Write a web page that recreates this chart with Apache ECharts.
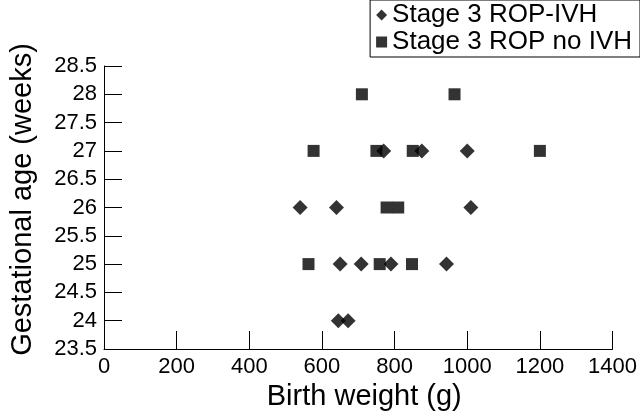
<!DOCTYPE html>
<html>
<head>
<meta charset="utf-8">
<script src="https://cdn.jsdelivr.net/npm/echarts@6/dist/echarts.min.js"></script>
<style>html,body{margin:0;padding:0;background:#fff}#c{width:640px;height:418px}</style>
</head>
<body>
<div id="c"></div>
<script>
// Stage 3 ROP-IVH: [birth weight (g), gestational age (weeks)]
var ivhWeight = [770, 875, 1000, 540, 640, 1010, 650, 708, 790, 943, 645, 672];
var ivhAge    = [27,  27,  27,   26,  26,  26,   25,  25,  25,  25,  24,  24];
// Stage 3 ROP no IVH
var noIvhWeight = [710, 965, 577, 750, 850, 1200, 778, 810, 563, 759, 848];
var noIvhAge    = [28,  28,  27,  27,  27,  27,   26,  26,  25,  25,  25];
var seriesNames = ['Stage 3 ROP-IVH', 'Stage 3 ROP no IVH'];

function pairs(xs, ys){ return xs.map(function(x,i){ return [x, ys[i]]; }); }

var chart = echarts.init(document.getElementById('c'), null, {renderer:'canvas'});
var font = 'Liberation Sans, Arial, Helvetica, sans-serif';
chart.setOption({
  animation:false,
  backgroundColor:'#fff',
  textStyle:{fontFamily:font, color:'#000'},
  grid:{left:101, right:27, top:66, bottom:69, containLabel:false},
  legend:{
    orient:'vertical', right:0, top:0,
    data:[{name:seriesNames[0], icon:'diamond'},{name:seriesNames[1], icon:'rect'}],
    itemWidth:11, itemHeight:11, itemGap:1,
    borderColor:'#000', borderWidth:1, padding:[2,8,2,6],
    textStyle:{fontSize:26, lineHeight:22, fontFamily:font, color:'#000'}
  },
  xAxis:{
    type:'value', min:0, max:1400, interval:200,
    name:'Birth weight (g)', nameLocation:'middle', nameGap:31,
    nameTextStyle:{fontSize:29, fontFamily:font, color:'#000', padding:[0,0,0,12]},
    axisLine:{lineStyle:{color:'#000', width:1}},
    axisTick:{inside:true, length:18, lineStyle:{color:'#000'}},
    axisLabel:{fontSize:22, color:'#000', margin:7, fontFamily:font,
      formatter:function(v){return String(v);}},
    splitLine:{show:false}
  },
  yAxis:{
    type:'value', min:23.5, max:28.5, interval:0.5,
    name:'Gestational age (weeks)', nameLocation:'middle', nameGap:67,
    nameTextStyle:{fontSize:29, fontFamily:font, color:'#000', padding:[0,0,0,16]},
    axisLine:{show:true, lineStyle:{color:'#000', width:1}},
    axisTick:{show:true, inside:true, length:18, lineStyle:{color:'#000'}},
    axisLabel:{fontSize:22, color:'#000', margin:7, fontFamily:font,
      formatter:function(v){return String(v);}},
    splitLine:{show:false}
  },
  series:[
    {name:seriesNames[0], type:'scatter', symbol:'diamond', symbolSize:15,
     itemStyle:{color:'#000'}, data:pairs(ivhWeight, ivhAge), z:3},
    {name:seriesNames[1], type:'scatter', symbol:'rect', symbolSize:12,
     itemStyle:{color:'#000'}, data:pairs(noIvhWeight, noIvhAge), z:2}
  ]
});
</script>
</body>
</html>
